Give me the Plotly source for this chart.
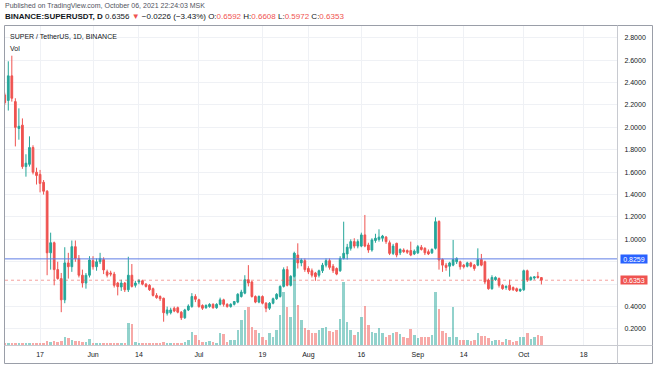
import pandas as pd
import plotly.graph_objects as go

# ---------------- data (daily candles, BINANCE:SUPERUSDT) ----------------
start_date = "2021-05-07"
opens = [2.29, 2.24, 2.46, 2.23, 1.99, 2.02, 1.65, 1.67, 1.82, 1.60,
         1.58, 1.51, 1.43, 0.88, 0.97, 0.73, 0.65, 0.46, 0.79, 0.756,
         0.935, 0.83, 0.68, 0.61, 0.68, 0.81, 0.756, 0.80, 0.82, 0.71,
         0.70, 0.69, 0.61, 0.575, 0.61, 0.55, 0.68, 0.59, 0.62, 0.63,
         0.60, 0.59, 0.56, 0.50, 0.49, 0.474, 0.34, 0.345, 0.385, 0.39,
         0.35, 0.30, 0.37, 0.40, 0.49, 0.46, 0.41, 0.39, 0.40, 0.42,
         0.39, 0.42, 0.46, 0.42, 0.40, 0.42, 0.44, 0.49, 0.52, 0.64,
         0.62, 0.49, 0.44, 0.49, 0.43, 0.385, 0.43, 0.47, 0.49, 0.58,
         0.73, 0.59, 0.67, 0.86, 0.79, 0.81, 0.74, 0.72, 0.70, 0.68,
         0.72, 0.77, 0.81, 0.76, 0.74, 0.72, 0.83, 0.87, 0.92, 0.98,
         0.94, 0.94, 1.04, 0.95, 0.905, 0.99, 1.00, 1.01, 1.02, 0.97,
         0.875, 0.965, 0.88, 0.905, 0.90, 0.90, 0.87, 0.88, 0.93, 0.92,
         0.89, 0.88, 0.92, 1.16, 0.82, 0.77, 0.76, 0.77, 0.80, 0.80,
         0.77, 0.76, 0.79, 0.77, 0.77, 0.82, 0.80, 0.637, 0.56, 0.64,
         0.65, 0.59, 0.57, 0.59, 0.57, 0.56, 0.54, 0.55, 0.72, 0.64,
         0.655, 0.67, 0.6592]
highs = [2.31, 2.59, 2.64, 2.26, 2.17, 2.08, 1.76, 1.92, 1.84, 1.64,
         1.62, 1.53, 1.44, 1.06, 0.98, 0.80, 0.70, 0.93, 0.88, 0.99,
         0.99, 0.86, 0.73, 0.70, 0.85, 0.85, 0.83, 0.88, 0.84, 0.73,
         0.72, 0.71, 0.62, 0.64, 0.62, 0.845, 0.78, 0.63, 0.645, 0.64,
         0.61, 0.60, 0.57, 0.52, 0.50, 0.48, 0.40, 0.39, 0.40, 0.40,
         0.36, 0.38, 0.42, 0.52, 0.51, 0.47, 0.42, 0.42, 0.43, 0.43,
         0.43, 0.48, 0.47, 0.43, 0.43, 0.45, 0.52, 0.55, 0.68, 0.77,
         0.63, 0.50, 0.50, 0.50, 0.44, 0.44, 0.48, 0.52, 0.59, 0.75,
         0.76, 0.68, 0.89, 0.965, 0.83, 0.83, 0.76, 0.74, 0.71, 0.73,
         0.79, 0.83, 0.83, 0.78, 0.75, 0.85, 1.158, 0.96, 1.00, 1.01,
         1.00, 1.06, 1.218, 0.97, 1.01, 1.05, 1.09, 1.04, 1.03, 0.99,
         0.96, 0.97, 0.92, 0.92, 0.91, 0.98, 0.91, 0.95, 0.95, 0.93,
         0.91, 0.92, 1.197, 1.17, 0.83, 0.79, 0.80, 0.995, 0.84, 0.81,
         0.78, 0.80, 0.80, 0.78, 0.92, 0.87, 0.81, 0.65, 0.68, 0.67,
         0.66, 0.60, 0.59, 0.64, 0.58, 0.57, 0.56, 0.73, 0.73, 0.67,
         0.67, 0.71, 0.6608]
lows = [2.20, 2.15, 2.23, 1.83, 1.89, 1.63, 1.56, 1.65, 1.58, 1.49,
        1.42, 1.40, 0.68, 0.73, 0.59, 0.64, 0.35, 0.43, 0.65, 0.71,
        0.80, 0.66, 0.57, 0.56, 0.66, 0.73, 0.72, 0.78, 0.69, 0.66,
        0.67, 0.57, 0.50, 0.54, 0.53, 0.53, 0.57, 0.57, 0.60, 0.59,
        0.57, 0.54, 0.49, 0.47, 0.45, 0.265, 0.32, 0.33, 0.35, 0.34,
        0.28, 0.29, 0.36, 0.39, 0.44, 0.39, 0.37, 0.38, 0.39, 0.38,
        0.38, 0.41, 0.40, 0.39, 0.39, 0.41, 0.43, 0.48, 0.51, 0.58,
        0.48, 0.43, 0.43, 0.42, 0.35, 0.37, 0.42, 0.46, 0.48, 0.57,
        0.58, 0.58, 0.66, 0.74, 0.76, 0.71, 0.69, 0.66, 0.63, 0.66,
        0.70, 0.75, 0.73, 0.70, 0.68, 0.71, 0.82, 0.82, 0.90, 0.92,
        0.92, 0.93, 0.93, 0.88, 0.89, 0.97, 0.98, 0.98, 0.96, 0.86,
        0.86, 0.84, 0.86, 0.88, 0.87, 0.85, 0.86, 0.87, 0.90, 0.86,
        0.86, 0.87, 0.91, 0.73, 0.71, 0.72, 0.667, 0.76, 0.78, 0.73,
        0.74, 0.75, 0.75, 0.72, 0.76, 0.76, 0.60, 0.55, 0.55, 0.63,
        0.57, 0.55, 0.55, 0.54, 0.54, 0.53, 0.53, 0.54, 0.62, 0.63,
        0.64, 0.65, 0.5972]
closes = [2.22, 2.46, 2.26, 2.00, 2.01, 1.65, 1.68, 1.82, 1.60, 1.57,
          1.50, 1.43, 0.88, 0.97, 0.73, 0.65, 0.46, 0.79, 0.756, 0.935,
          0.83, 0.68, 0.61, 0.68, 0.816, 0.756, 0.80, 0.83, 0.727, 0.68,
          0.69, 0.59, 0.578, 0.61, 0.55, 0.68, 0.58, 0.61, 0.63, 0.60,
          0.58, 0.55, 0.50, 0.48, 0.47, 0.345, 0.37, 0.37, 0.36, 0.35,
          0.30, 0.37, 0.405, 0.49, 0.465, 0.40, 0.385, 0.41, 0.42, 0.39,
          0.42, 0.46, 0.42, 0.40, 0.42, 0.445, 0.51, 0.53, 0.64, 0.61,
          0.49, 0.44, 0.49, 0.43, 0.385, 0.43, 0.47, 0.51, 0.58, 0.73,
          0.59, 0.67, 0.876, 0.79, 0.815, 0.73, 0.71, 0.68, 0.667, 0.72,
          0.77, 0.81, 0.75, 0.72, 0.69, 0.83, 0.876, 0.93, 0.98, 0.94,
          0.98, 1.04, 0.94, 0.905, 0.995, 1.01, 1.02, 1.03, 0.98, 0.875,
          0.94, 0.86, 0.91, 0.89, 0.885, 0.86, 0.895, 0.935, 0.91, 0.88,
          0.87, 0.91, 1.158, 0.816, 0.77, 0.75, 0.79, 0.82, 0.83, 0.756,
          0.755, 0.79, 0.76, 0.74, 0.82, 0.77, 0.62, 0.56, 0.66, 0.66,
          0.59, 0.56, 0.58, 0.55, 0.55, 0.54, 0.555, 0.72, 0.637, 0.66,
          0.665, 0.659, 0.6353]
volume_m = [2, 2.5, 2.5, 2, 2, 2.5, 2, 2, 2, 2.5,
            2, 2.5, 4, 3.3, 4, 3, 4, 8.3, 6.7, 5,
            4.3, 4.3, 3, 3, 5.7, 2.5, 2.5, 2, 2, 2,
            2, 2, 2.5, 2, 2.5, 22.3, 21, 3.3, 2.5, 2.5,
            2.5, 2.5, 2.5, 2, 2, 3.5, 2.5, 2.5, 2, 2,
            2.5, 3, 5, 12.7, 10, 5, 3, 3, 4, 3,
            2.5, 11.7, 10.7, 3, 5, 5, 15, 25, 35, 38,
            18, 15, 11.7, 8, 5, 11.7, 8, 15, 30, 53,
            38, 28, 91.7, 40, 25, 16.7, 15, 11.7, 11.7, 15,
            16.7, 18.3, 14.3, 13.3, 15, 25.7, 63.3, 23.3, 15, 10,
            13.3, 28.3, 39, 20, 13.3, 11.7, 16.7, 11.7, 8.3, 10,
            11.7, 13.3, 11, 7.7, 6.7, 16, 10, 6.7, 8.3, 8.3,
            7.7, 10, 52.7, 35.7, 14.3, 12.3, 7.7, 37.7, 8.3, 5,
            5, 5, 4.3, 5, 12.3, 9, 9, 6.7, 4, 5,
            5, 3.3, 5.7, 5, 3.3, 4.3, 7.7, 8.3, 11.7, 5.7,
            8.3, 10, 9]

price_ticks = [0.2, 0.4, 0.6, 0.8, 1.0, 1.2, 1.4, 1.6, 1.8, 2.0, 2.2, 2.4, 2.6, 2.8]
# labels hidden behind the price badges are left blank
price_tick_labels = ["0.2000", "0.4000", "", "", "1.0000", "1.2000", "1.4000", "1.6000",
                     "1.8000", "2.0000", "2.2000", "2.4000", "2.6000", "2.8000"]
date_ticks = ["2021-05-17", "2021-06-01", "2021-06-14", "2021-07-01", "2021-07-19",
              "2021-08-01", "2021-08-16", "2021-09-01", "2021-09-14", "2021-10-01",
              "2021-10-18"]
date_tick_labels = ["17", "Jun", "14", "Jul", "19", "Aug", "16", "Sep", "14", "Oct", "18"]
hline_price = 0.8259
last_price = 0.6353

dates = pd.date_range(start_date, periods=len(closes), freq="D")

UP = "#26a69a"
DOWN = "#ef5350"
UP_VOL = "rgba(38,166,154,0.5)"
DOWN_VOL = "rgba(239,83,80,0.5)"
FONT = "Liberation Sans"

vol_colors = [UP_VOL if c >= o else DOWN_VOL for o, c in zip(opens, closes)]

fig = go.Figure()
fig.add_trace(go.Bar(
    x=dates, y=volume_m, marker=dict(color=vol_colors, line=dict(width=0)),
    width=0.72 * 86400000, xaxis="x", yaxis="y", showlegend=False, hoverinfo="skip"))
fig.add_trace(go.Candlestick(
    x=dates, open=opens, high=highs, low=lows, close=closes,
    xaxis="x", yaxis="y2", showlegend=False,
    increasing=dict(line=dict(color=UP, width=1), fillcolor=UP),
    decreasing=dict(line=dict(color=DOWN, width=1), fillcolor=DOWN),
    whiskerwidth=0))

# plot-area pixel geometry
L, R, T, B = 5, 617, 25, 345
W, H = R - L, B - T
def px(X):
    return (X - L) / W
def py(Y):
    return (B - Y) / H

GRID = "#eff1f5"
fig.update_layout(
    width=654, height=366,
    margin=dict(l=L, r=654 - R, t=T, b=366 - B, pad=0),
    paper_bgcolor="white", plot_bgcolor="white",
    font=dict(family=FONT, size=7, color="#131722"),
    bargap=0,
    xaxis=dict(type="date", range=["2021-05-07 01:40", "2021-10-27 10:00"],
               tickvals=date_ticks, ticktext=date_tick_labels,
               showgrid=True, gridcolor=GRID, gridwidth=1,
               ticks="outside", ticklen=3, tickcolor="rgba(0,0,0,0)",
               showline=False, zeroline=False, rangeslider=dict(visible=False),
               tickfont=dict(size=7, color="#131722")),
    yaxis=dict(range=[0, 320], visible=False, showgrid=False, fixedrange=True),
    yaxis2=dict(overlaying="y", side="right", range=[0.057, 2.914],
                tickvals=price_ticks, ticktext=price_tick_labels,
                showgrid=True, gridcolor=GRID, gridwidth=1,
                ticks="outside", ticklen=5, tickcolor="rgba(0,0,0,0)",
                showline=False, zeroline=False,
                tickfont=dict(size=7, color="#131722")),
)

frame_col = "#9a9ea8"
shapes = [
    dict(type="line", xref="paper", yref="y2", x0=0, x1=1, y0=hline_price, y1=hline_price,
         line=dict(color="#5f7ee6", width=1)),
    dict(type="line", xref="paper", yref="y2", x0=0, x1=1, y0=last_price, y1=last_price,
         line=dict(color="rgba(239,83,80,0.55)", width=1, dash="dot")),
    dict(type="rect", xref="paper", yref="paper", x0=px(4.5), x1=px(652.5), y0=py(363.5), y1=py(25.5),
         line=dict(color=frame_col, width=1), layer="above"),
    dict(type="line", xref="paper", yref="paper", x0=px(617.5), x1=px(617.5), y0=py(363.5), y1=py(25.5),
         line=dict(color="#c8cad0", width=1), layer="above"),
    dict(type="line", xref="paper", yref="paper", x0=px(4.5), x1=px(652.5), y0=py(345.5), y1=py(345.5),
         line=dict(color="#c8cad0", width=1), layer="above"),
]
fig.update_layout(shapes=shapes)

red = "#ef5350"
line2 = ("<b>BINANCE:SUPERUSDT, D</b> 0.6356 <span style='color:%s'>▼</span> −0.0226 (−3.43%%) "
         "O:<span style='color:%s'>0.6592</span> H:<span style='color:%s'>0.6608</span> "
         "L:<span style='color:%s'>0.5972</span> C:<span style='color:%s'>0.6353</span>") % (red, red, red, red, red)
annotations = [
    dict(text="Published on TradingView.com, October 06, 2021 22:24:03 MSK", xref="paper", yref="paper",
         x=px(3), y=py(6.5), xanchor="left", yanchor="middle", showarrow=False,
         font=dict(size=7, color="#50535e")),
    dict(text=line2, xref="paper", yref="paper",
         x=px(3), y=py(16), xanchor="left", yanchor="middle", showarrow=False,
         font=dict(size=8, color="#131722")),
    dict(text="SUPER / TetherUS, 1D, BINANCE", xref="paper", yref="paper",
         x=px(8), y=py(37), xanchor="left", yanchor="middle", showarrow=False,
         font=dict(size=7, color="#131722")),
    dict(text="Vol", xref="paper", yref="paper",
         x=px(8), y=py(48), xanchor="left", yanchor="middle", showarrow=False,
         font=dict(size=7, color="#131722")),
    dict(text="0.8259", xref="paper", yref="y2", x=px(620), y=hline_price,
         xanchor="left", yanchor="middle", showarrow=False,
         bgcolor="#2962ff", font=dict(size=7, color="white"), width=26, height=8, borderpad=0),
    dict(text="0.6353", xref="paper", yref="y2", x=px(620), y=last_price,
         xanchor="left", yanchor="middle", showarrow=False,
         bgcolor=red, font=dict(size=7, color="white"), width=26, height=8, borderpad=0),
]
fig.update_layout(annotations=annotations)

fig.write_html("out.html", config={"displayModeBar": False},
               post_script="document.body.style.margin='0px';document.body.style.overflow='hidden';")
